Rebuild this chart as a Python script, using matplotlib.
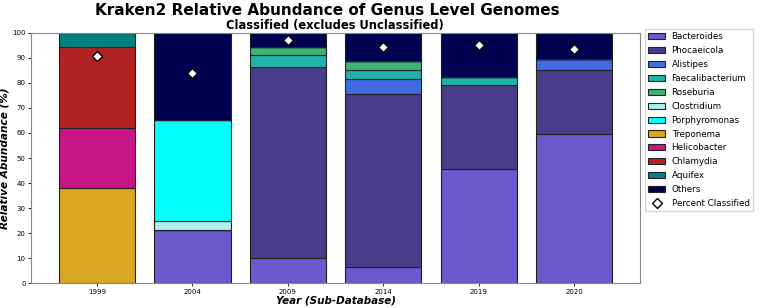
import numpy as np
import matplotlib.pyplot as plt

years = ['1999', '2004', '2009', '2014', '2019', '2020']

genera = ['Bacteroides', 'Phocaeicola', 'Alistipes', 'Faecalibacterium', 'Roseburia',
          'Clostridium', 'Porphyromonas', 'Treponema', 'Helicobacter', 'Chlamydia',
          'Aquifex', 'Others']
colors = ['#6A5ACD', '#483D8B', '#4169E1', '#20B2AA', '#3CB371',
          '#AFEEEE', '#00FFFF', '#DAA520', '#C71585', '#B22222',
          '#008080', '#000050']

# relative abundance (%) per genus, one value per year
bacteroides = [0, 21.1, 9.9, 6.3, 45.6, 59.5]
phocaeicola = [0, 0, 76.5, 69.2, 33.5, 25.6]
alistipes = [0, 0, 0, 6.0, 0, 4.4]
faecalibacterium = [0, 0, 4.6, 3.6, 3.3, 0]
roseburia = [0, 0, 3.5, 3.6, 0, 0]
clostridium = [0, 3.7, 0, 0, 0, 0]
porphyromonas = [0, 40.4, 0, 0, 0, 0]
treponema = [38.1, 0, 0, 0, 0, 0]
helicobacter = [23.9, 0, 0, 0, 0, 0]
chlamydia = [32.2, 0, 0, 0, 0, 0]
aquifex = [5.8, 0, 0, 0, 0, 0]
others = [0, 34.8, 5.5, 11.3, 17.6, 10.5]

percent_classified = [90.8, 83.9, 97.1, 94.5, 95.1, 93.7]

values = [bacteroides, phocaeicola, alistipes, faecalibacterium, roseburia,
          clostridium, porphyromonas, treponema, helicobacter, chlamydia,
          aquifex, others]

fig = plt.figure(figsize=(7.61, 3.08), dpi=100)
ax = fig.add_axes([0.041, 0.081, 0.8, 0.812])

x = np.arange(len(years))
bottom = np.zeros(len(years))
for name, col, vals in zip(genera, colors, values):
    vals = np.array(vals)
    ax.bar(x, vals, 0.8, bottom=bottom, color=col, edgecolor='#222222',
           linewidth=0.8, label=name)
    bottom += vals

ax.plot(x, percent_classified, 'D', color='white', markeredgecolor='black',
        markeredgewidth=1.0, markersize=5, linestyle='none', label='Percent Classified')

ax.set_ylim(0, 100)
ax.set_yticks(range(0, 101, 10))
ax.set_xticks(x)
ax.set_xticklabels(years)
ax.tick_params(labelsize=5, length=2, width=0.6, pad=2)
for s in ax.spines.values():
    s.set_color('#888888')
    s.set_linewidth(0.8)

ax.set_ylabel('Relative Abundance (%)', fontsize=7.6, fontweight='bold', style='italic', labelpad=2)
ax.set_xlabel('Year (Sub-Database)', fontsize=7.5, fontweight='bold', style='italic', labelpad=1)

fig.text(0.43, 0.965, 'Kraken2 Relative Abundance of Genus Level Genomes',
         ha='center', va='center', fontsize=11, fontweight='bold')
fig.text(0.44, 0.918, 'Classified (excludes Unclassified)',
         ha='center', va='center', fontsize=8.3, fontweight='bold')

# put the marker entry last like the original
handles, labels = ax.get_legend_handles_labels()
handles = handles[1:] + handles[:1]
labels = labels[1:] + labels[:1]
ax.legend(handles, labels, loc='upper left', bbox_to_anchor=(1.008, 1.015), fontsize=6.3,
          handlelength=2.0, handleheight=0.7, handletextpad=0.7, labelspacing=0.56,
          borderaxespad=0, borderpad=0.35,
          frameon=True, fancybox=False, edgecolor='#cccccc')

fig.savefig('out.png', dpi=100)
